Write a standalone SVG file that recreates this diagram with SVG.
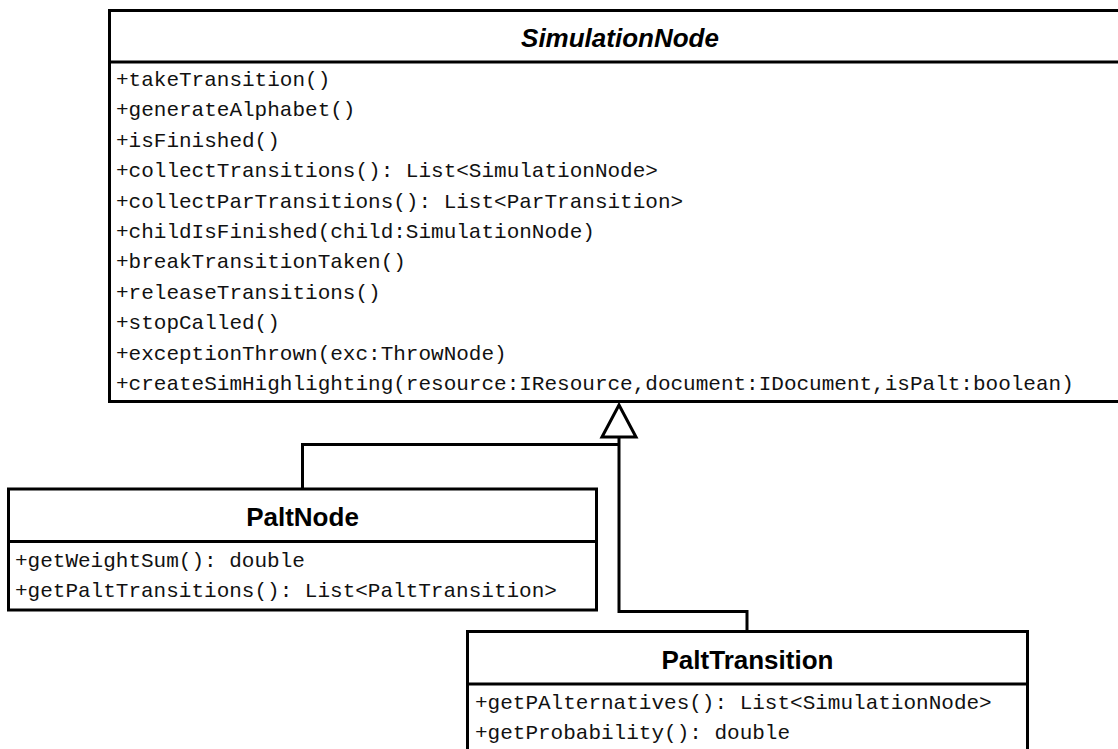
<svg xmlns="http://www.w3.org/2000/svg" width="1118" height="749" viewBox="0 0 1118 749">
  <style>
    .box { fill: #ffffff; stroke: #000000; stroke-width: 3; }
    .div { stroke: #000000; stroke-width: 3; }
    .title { font-family: "Liberation Sans", Arial, sans-serif; font-size: 26px; font-weight: bold; fill: #000000; text-anchor: middle; }
    .abstract { font-style: italic; }
    .member { font-family: "Liberation Mono", "Courier New", monospace; font-size: 21px; fill: #111111; }
    .conn { fill: none; stroke: #000000; stroke-width: 3; }
  </style>
  <defs>
    <marker id="gen" markerUnits="userSpaceOnUse" markerWidth="40" markerHeight="40" viewBox="-2 -20 38 40" refX="0" refY="0" orient="auto" overflow="visible">
      <path d="M0,-17 L32,0 L0,17 Z" fill="#ffffff" stroke="#000000" stroke-width="3" stroke-linejoin="miter"/>
    </marker>
  </defs>
  <rect width="1118" height="749" fill="#ffffff"/>

  <g id="SimulationNode">
    <rect class="box" x="109.5" y="10.5" width="1021.5" height="391"/>
    <line class="div" x1="109.5" y1="62" x2="1131" y2="62"/>
    <text class="title abstract" x="620" y="46.5">SimulationNode</text>
    <text class="member" x="116" y="86">+takeTransition()</text>
    <text class="member" x="116" y="116.4">+generateAlphabet()</text>
    <text class="member" x="116" y="146.8">+isFinished()</text>
    <text class="member" x="116" y="177.2">+collectTransitions(): List&lt;SimulationNode&gt;</text>
    <text class="member" x="116" y="207.6">+collectParTransitions(): List&lt;ParTransition&gt;</text>
    <text class="member" x="116" y="238">+childIsFinished(child:SimulationNode)</text>
    <text class="member" x="116" y="268.4">+breakTransitionTaken()</text>
    <text class="member" x="116" y="298.8">+releaseTransitions()</text>
    <text class="member" x="116" y="329.2">+stopCalled()</text>
    <text class="member" x="116" y="359.6">+exceptionThrown(exc:ThrowNode)</text>
    <text class="member" x="116" y="390">+createSimHighlighting(resource:IResource,document:IDocument,isPalt:boolean)</text>
  </g>

  <g id="PaltNode">
    <rect class="box" x="8.5" y="489" width="588" height="121"/>
    <line class="div" x1="8.5" y1="541.5" x2="596.5" y2="541.5"/>
    <text class="title" x="302.5" y="525.5">PaltNode</text>
    <text class="member" x="15" y="567.3">+getWeightSum(): double</text>
    <text class="member" x="15" y="596.7">+getPaltTransitions(): List&lt;PaltTransition&gt;</text>
  </g>

  <g id="PaltTransition">
    <rect class="box" x="467.5" y="631.5" width="560" height="140"/>
    <line class="div" x1="467.5" y1="684" x2="1027.5" y2="684"/>
    <text class="title" x="747.5" y="668.5">PaltTransition</text>
    <text class="member" x="475" y="708.7">+getPAlternatives(): List&lt;SimulationNode&gt;</text>
    <text class="member" x="475" y="739">+getProbability(): double</text>
  </g>

  <g id="connectors">
    <path class="conn" d="M302.5,489 V444.5 H619"/>
    <path class="conn" d="M747,631.5 V611.5 H619 V437" marker-end="url(#gen)"/>
  </g>
</svg>
